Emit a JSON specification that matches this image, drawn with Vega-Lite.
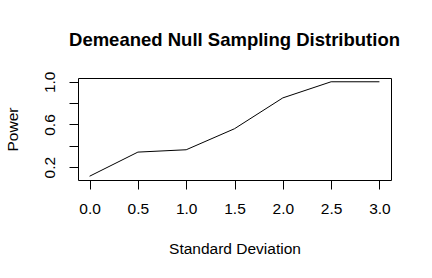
{
  "$schema": "https://vega.github.io/schema/vega-lite/v6.json",
  "autosize": {"type": "none"},
  "padding": {"left": 78, "top": 78, "right": 41, "bottom": 98},
  "width": 313,
  "height": 102,
  "background": "white",
  "config": {
    "font": "Liberation Sans",
    "view": {"stroke": "black", "strokeWidth": 1}
  },
  "title": {
    "text": "Demeaned Null Sampling Distribution",
    "font": "Liberation Sans",
    "fontSize": 18.5,
    "fontWeight": "bold",
    "color": "black",
    "anchor": "middle",
    "baseline": "alphabetic",
    "offset": 7
  },
  "data": {
    "values": [
      {"sd": 0.0, "power": 0.115},
      {"sd": 0.5, "power": 0.341},
      {"sd": 1.0, "power": 0.363},
      {"sd": 1.5, "power": 0.56},
      {"sd": 2.0, "power": 0.849},
      {"sd": 2.5, "power": 1.0},
      {"sd": 3.0, "power": 1.0}
    ]
  },
  "mark": {"type": "line", "color": "black", "strokeWidth": 1},
  "encoding": {
    "x": {
      "field": "sd",
      "type": "quantitative",
      "scale": {"domain": [-0.12, 3.12], "nice": false, "zero": false},
      "axis": {
        "title": "Standard Deviation",
        "values": [0, 0.5, 1, 1.5, 2, 2.5, 3],
        "format": ".1f",
        "grid": false,
        "domain": false,
        "ticks": true,
        "tickColor": "black",
        "tickSize": 9,
        "labelFontSize": 15.5,
        "labelColor": "black",
        "labelPadding": 12,
        "labelFlush": false,
        "titleFontSize": 15.5,
        "titleFontWeight": "normal",
        "titleColor": "black",
        "titlePadding": 25
      }
    },
    "y": {
      "field": "power",
      "type": "quantitative",
      "scale": {"domain": [0.0796, 1.0354], "nice": false, "zero": false},
      "axis": {
        "title": "Power",
        "values": [0.2, 0.4, 0.6, 0.8, 1.0],
        "labelExpr": "(round(datum.value*10) % 4 == 2) ? format(datum.value, '.1f') : ''",
        "grid": false,
        "domain": false,
        "ticks": true,
        "tickColor": "black",
        "tickSize": 9,
        "labelAngle": 270,
        "labelAlign": "center",
        "labelBaseline": "bottom",
        "labelFontSize": 15.5,
        "labelColor": "black",
        "labelPadding": 12,
        "labelFlush": false,
        "titleFontSize": 15.5,
        "titleFontWeight": "normal",
        "titleColor": "black",
        "titlePadding": 22
      }
    }
  }
}
